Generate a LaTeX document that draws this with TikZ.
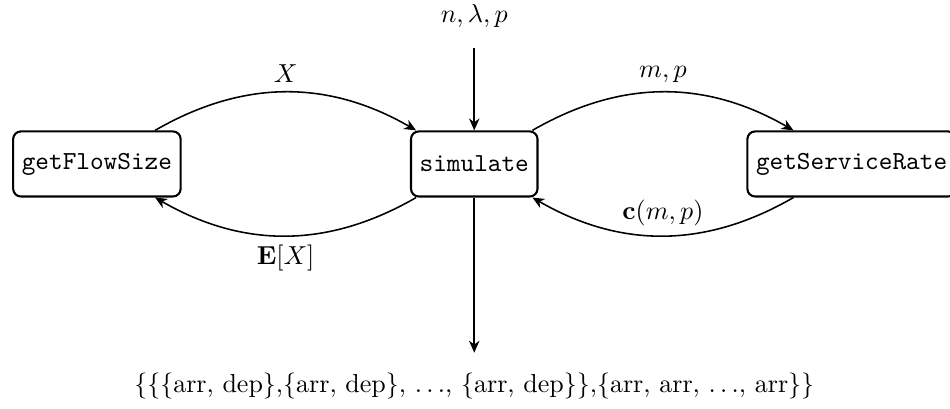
\documentclass[tikz,border=0pt]{standalone}
\usepackage{amsmath,amssymb}
\usepackage{tikz}
\usetikzlibrary{positioning,arrows.meta}

\begin{document}
\begin{tikzpicture}[
  func/.style={draw=black, line width=0.8pt, rounded corners=3pt,
    minimum height=0.88cm, font=\ttfamily, align=center},
  flow/.style={-{Stealth[length=1.6mm, width=1.4mm, inset=0.5mm]}, line width=0.6pt},
  lbl/.style={midway}]
\useasboundingbox (-6.41,-3.30) rectangle (6.43,2.216);
% functions
\node[func] (size) at (-5.1,0) {getFlowSize};
\node[func] (sim) at (0,0) {simulate};
\node[func] (rate) at (5.1,0) {getServiceRate};
% inputs and outputs
\node (params) at (0,2.0) {$n,\lambda,p$};
\coordinate (in) at (0,1.57);
\coordinate (out) at (0,-2.55);
\node (result) at (0,-3.0)
  {\{\{\{arr, dep\},\{arr, dep\}, $\ldots$, \{arr, dep\}\},\{arr, arr, $\ldots$, arr\}\}};
% edges
\draw[flow] (in) -- (sim);
\draw[flow] (sim) -- (out);
\draw[flow] (size) to[bend left=30] node[lbl, above] {$X$} (sim);
\draw[flow] (sim) to[bend left=30] node[lbl, below] {$\mathbf{E}[X]$} (size);
\draw[flow] (sim) to[bend left=30] node[lbl, above] {$m,p$} (rate);
\draw[flow] (rate) to[bend left=30] node[lbl, above] {$\mathbf{c}(m,p)$} (sim);
\end{tikzpicture}
\end{document}
